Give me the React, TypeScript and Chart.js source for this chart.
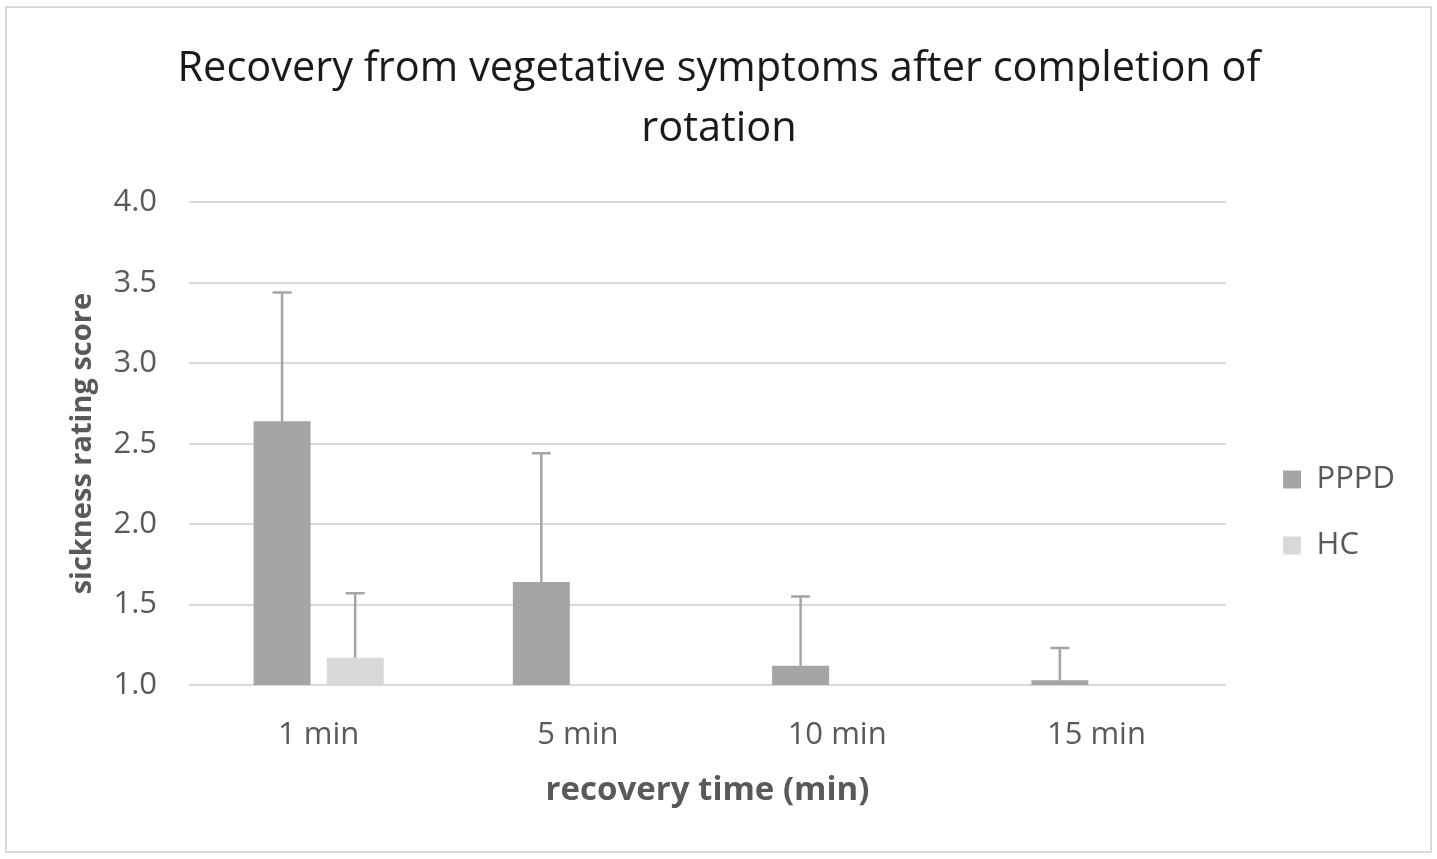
import React, { useEffect, useRef } from "react";
import { Chart, registerables } from "chart.js";

Chart.register(...registerables);

const categories = ["1 min", "5 min", "10 min", "15 min"];
const seriesNames = ["PPPD", "HC"];
const pppdValues = [2.64, 1.64, 1.12, 1.03];
const hcValues = [1.17, 1.0, 1.0, 1.0];
const pppdErrTop = [3.44, 2.44, 1.55, 1.23];
const hcErrTop = [1.57, null, null, null];
const yTicks = [1.0, 1.5, 2.0, 2.5, 3.0, 3.5, 4.0];

const FONT = "'Open Sans', 'Noto Sans', sans-serif";
const GREY_TEXT = "#595959";

const errorBarPlugin = {
  id: "errorBars",
  afterDatasetsDraw(chart: any) {
    const ctx = chart.ctx;
    const yScale = chart.scales.y;
    const errs = [pppdErrTop, hcErrTop];
    ctx.save();
    ctx.strokeStyle = "#a5a5a5";
    ctx.lineWidth = 2.5;
    chart.data.datasets.forEach((ds: any, di: number) => {
      const meta = chart.getDatasetMeta(di);
      meta.data.forEach((bar: any, i: number) => {
        const top = errs[di][i];
        if (top == null) return;
        const yTop = yScale.getPixelForValue(top);
        const x = bar.x;
        ctx.beginPath();
        ctx.moveTo(x, bar.y);
        ctx.lineTo(x, yTop);
        ctx.moveTo(x - 9.5, yTop);
        ctx.lineTo(x + 9.5, yTop);
        ctx.stroke();
      });
    });
    ctx.restore();
  },
};

export default function App() {
  const ref = useRef<HTMLCanvasElement>(null);
  useEffect(() => {
    if (!ref.current) return;
    const chart = new Chart(ref.current, {
      type: "bar",
      data: {
        labels: categories,
        datasets: [
          {
            label: seriesNames[0],
            data: pppdValues,
            backgroundColor: "#a5a5a5",
            categoryPercentage: 0.564,
            barPercentage: 0.78,
          },
          {
            label: seriesNames[1],
            data: hcValues,
            backgroundColor: "#d9d9d9",
            categoryPercentage: 0.564,
            barPercentage: 0.78,
          },
        ],
      },
      options: {
        responsive: false,
        animation: false,
        layout: { padding: { left: 33, right: 32, top: 0, bottom: 45 } },
        plugins: {
          tooltip: { enabled: false },
          title: {
            display: true,
            text: ["Recovery from vegetative symptoms after completion of", "rotation"],
            color: "#1a1a1a",
            font: { family: FONT, size: 41.5, weight: "normal", lineHeight: 1.45 },
            padding: { top: 39, bottom: 43 },
          },
          legend: {
            display: true,
            position: "right",
            align: "center",
            title: { display: true, text: "", padding: { top: 210, bottom: 0 }, font: { size: 1, lineHeight: 1 } },
            labels: {
              color: GREY_TEXT,
              font: { family: FONT, size: 31 },
              boxWidth: 18,
              boxHeight: 18,
              padding: 35,
            },
          },
        },
        scales: {
          x: {
            grid: { display: false },
            border: { display: false },
            ticks: { color: GREY_TEXT, font: { family: FONT, size: 31 }, padding: 24 },
            title: {
              display: true,
              text: "recovery time (min)",
              color: GREY_TEXT,
              font: { family: FONT, size: 33, weight: "bold" },
              padding: 4,
            },
            afterFit: (s: any) => {
              s.height = 129;
            },
          },
          y: {
            min: 1,
            max: 4,
            afterBuildTicks: (s: any) => {
              s.ticks = yTicks.map((v) => ({ value: v }));
            },
            grid: { color: "#d9d9d9", lineWidth: 2, drawTicks: false },
            border: { display: false },
            ticks: {
              color: GREY_TEXT,
              font: { family: FONT, size: 31 },
              padding: 32,
              callback: (v: any) => Number(v).toFixed(1),
            },
            title: {
              display: true,
              text: "sickness rating score",
              color: GREY_TEXT,
              font: { family: FONT, size: 29, weight: "bold" },
              padding: { top: 32, bottom: 4 },
            },
            afterFit: (s: any) => {
              s.width = 156;
            },
          },
          pad: {
            type: "linear",
            position: "right",
            display: true,
            grid: { display: false },
            border: { display: false },
            ticks: { display: false },
            afterFit: (s: any) => {
              s.width = 22;
            },
          },
        },
      },
      plugins: [errorBarPlugin],
    } as any);
    return () => chart.destroy();
  }, []);

  return (
    <div style={{ position: "fixed", left: 0, top: 0, width: 1437, height: 859, background: "#fff" }}>
      <div
        style={{
          position: "absolute",
          left: 5,
          top: 6,
          width: 1427,
          height: 847,
          border: "2px solid #d9d9d9",
          boxSizing: "border-box",
        }}
      />
      <canvas ref={ref} width={1437} height={859} style={{ position: "absolute", left: 0, top: 0 }} />
    </div>
  );
}
